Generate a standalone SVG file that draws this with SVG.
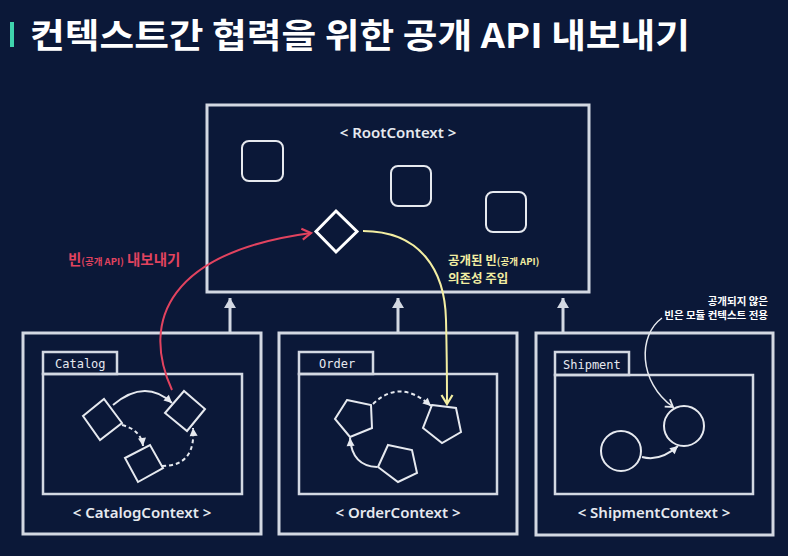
<svg xmlns="http://www.w3.org/2000/svg" width="788" height="556" viewBox="0 0 788 556">
<defs>
<style>
.bg{fill:#0b1838}
.box{fill:none;stroke:#d3d8e2;stroke-width:3}
.inner{fill:none;stroke:#d3d8e2;stroke-width:2.5}
.shape{fill:none;stroke:#e6e9ef;stroke-width:2}
.ctx{font-family:"Noto Sans","Liberation Sans",sans-serif;font-size:15px;font-weight:600;fill:#e6e9ef;text-anchor:middle}
.pkg{font-family:"DejaVu Sans Mono","Liberation Mono",monospace;font-size:12px;fill:#e6e9ef}
.kr{font-family:"Noto Sans CJK KR","Noto Sans",sans-serif;font-weight:bold}
.conn{fill:none;stroke:#e6e9ef;stroke-width:2}
.dash{stroke-dasharray:4 3}
.up{fill:none;stroke:#d3d8e2;stroke-width:3}
</style>
<marker id="tri" markerUnits="userSpaceOnUse" markerWidth="14" markerHeight="14" viewBox="0 0 14 14" refX="12" refY="7" orient="auto">
<path d="M2,1 L12,7 L2,13 Z" fill="#d3d8e2"/>
</marker>
<marker id="stri" markerUnits="userSpaceOnUse" markerWidth="10" markerHeight="10" viewBox="0 0 10 10" refX="9" refY="5" orient="auto">
<path d="M1,1 L9,5 L1,9 Z" fill="#e6e9ef"/>
</marker>
<marker id="chevW" markerUnits="userSpaceOnUse" markerWidth="12" markerHeight="12" viewBox="0 0 12 12" refX="10" refY="6" orient="auto">
<path d="M3,1.5 L10,6 L3,10.5" fill="none" stroke="#e6e9ef" stroke-width="1.8"/>
</marker>
<marker id="chevR" markerUnits="userSpaceOnUse" markerWidth="14" markerHeight="14" viewBox="0 0 14 14" refX="12" refY="7" orient="auto">
<path d="M3,1.5 L12,7 L3,12.5" fill="none" stroke="#e2435f" stroke-width="2.2"/>
</marker>
<marker id="chevY" markerUnits="userSpaceOnUse" markerWidth="14" markerHeight="14" viewBox="0 0 14 14" refX="12" refY="7" orient="auto">
<path d="M3,1.5 L12,7 L3,12.5" fill="none" stroke="#f3eea2" stroke-width="2.2"/>
</marker>
</defs>
<rect class="bg" x="0" y="0" width="788" height="556"/>

<g id="title">
<rect x="10" y="22" width="4" height="25" fill="#3fd3ad"/>
<text class="kr" x="30" y="48" font-size="34" fill="#ffffff" textLength="660" lengthAdjust="spacingAndGlyphs">컨텍스트간 협력을 위한 공개 API 내보내기</text>
</g>

<g id="root-context">
<rect class="box" x="207" y="105" width="382" height="187"/>
<text class="ctx" x="398" y="138">&lt; RootContext &gt;</text>
<rect class="shape" x="242" y="141" width="41" height="40" rx="7"/>
<rect class="shape" x="391" y="166" width="40" height="40" rx="7"/>
<rect class="shape" x="486" y="192" width="40" height="40" rx="7"/>
<polygon points="336,211 357,231.5 336,252 316,231.5" fill="none" stroke="#ffffff" stroke-width="3"/>
</g>

<g id="catalog-context">
<rect class="box" x="23" y="333" width="238" height="201"/>
<rect class="inner" x="43" y="352" width="74" height="22"/>
<rect class="inner" x="43" y="374" width="199" height="120"/>
<text class="pkg" x="55" y="368">Catalog</text>
<polygon class="shape" points="83,416 104,399 122,423 100,440"/>
<polygon class="shape" points="165,413 184,391 205,409 187,431"/>
<polygon class="shape" points="125,458 150,445 163,468 138,482"/>
<text class="ctx" x="142" y="518">&lt; CatalogContext &gt;</text>
</g>

<g id="order-context">
<rect class="box" x="279" y="333" width="238" height="201"/>
<rect class="inner" x="299" y="352" width="74" height="22"/>
<rect class="inner" x="299" y="374" width="198" height="120"/>
<text class="pkg" x="319" y="368">Order</text>
<polygon class="shape" points="347,400 371,405 372,428 350,437 335,419"/>
<polygon class="shape" points="432,405 456,408 461,432 442,443 423,428"/>
<polygon class="shape" points="388,445 412,450 417,473 398,482 378,467"/>
<text class="ctx" x="398" y="518">&lt; OrderContext &gt;</text>
</g>

<g id="shipment-context">
<rect class="box" x="536" y="333" width="237" height="202"/>
<rect class="inner" x="555" y="352" width="74" height="23"/>
<rect class="inner" x="555" y="375" width="198" height="119"/>
<text class="pkg" x="563" y="369">Shipment</text>
<circle class="shape" cx="621" cy="451" r="20"/>
<circle class="shape" cx="684" cy="426" r="20"/>
<text class="ctx" x="654" y="518">&lt; ShipmentContext &gt;</text>
<text class="kr" x="768" y="305" font-size="10.5" fill="#ffffff" text-anchor="end">공개되지 않은</text>
<text class="kr" x="768" y="319" font-size="10.5" fill="#ffffff" text-anchor="end">빈은 모듈 컨텍스트 전용</text>
</g>

<g id="labels">
<text class="kr" x="68" y="265" fill="#e2435f" font-size="14.5">빈<tspan font-size="9.5">(공개 API)</tspan> 내보내기</text>
<text class="kr" x="448" y="265" fill="#f3eea2" font-size="12.5">공개된 빈<tspan font-size="9.5">(공개 API)</tspan></text>
<text class="kr" x="448" y="283" fill="#f3eea2" font-size="12.5">의존성 주입</text>
</g>

<g id="connectors">
<path class="up" d="M230,333 L230,298" marker-end="url(#tri)"/>
<path class="up" d="M398,333 L398,298" marker-end="url(#tri)"/>
<path class="up" d="M563,333 L563,298" marker-end="url(#tri)"/>
<path d="M172,390 C140,320 170,252 311,233" fill="none" stroke="#e2435f" stroke-width="2" marker-end="url(#chevR)"/>
<path d="M363,231 C420,231 445,270 446,320 C447,360 447,380 447,404" fill="none" stroke="#f3eea2" stroke-width="2" marker-end="url(#chevY)"/>
<path class="conn" d="M113,405 Q145,378 172,403" marker-end="url(#stri)"/>
<path class="conn dash" d="M122,425 Q141,430 143,446" marker-end="url(#stri)"/>
<path class="conn dash" d="M162,466 Q196,466 193,428" marker-end="url(#stri)"/>
<path class="conn dash" d="M373,404 Q400,378 431,406" marker-end="url(#stri)"/>
<path class="conn" d="M377,467 Q352,466 350,438" marker-end="url(#stri)"/>
<path class="conn" d="M642,457 Q660,462 678,446" marker-end="url(#stri)"/>
<path d="M662,318 C638,335 638,382 673,407" fill="none" stroke="#e6e9ef" stroke-width="1.5" marker-end="url(#chevW)"/>
</g>
</svg>
